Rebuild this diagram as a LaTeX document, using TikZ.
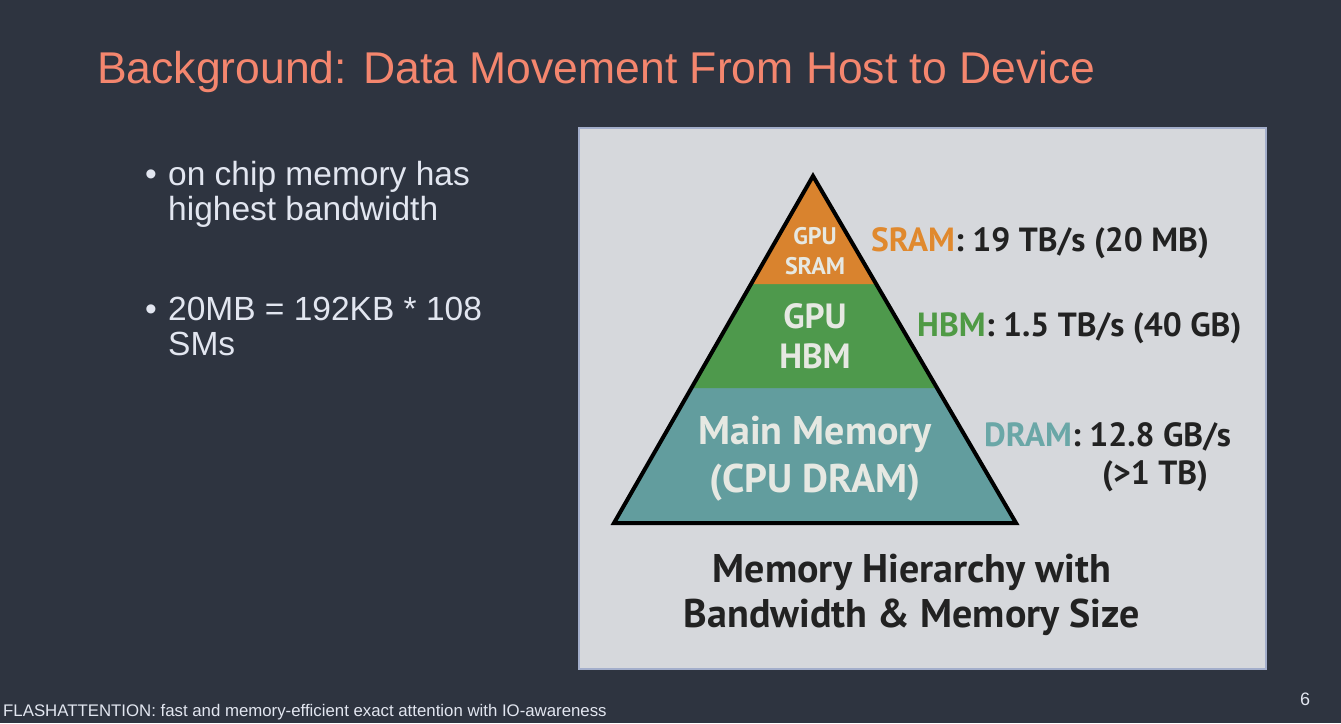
\documentclass[tikz,border=0pt]{standalone}
\usepackage{fontspec}
\setmainfont{Liberation Sans}
\newfontfamily\pyr{PT Sans}
\definecolor{bg}{HTML}{2E3440}
\definecolor{titlec}{HTML}{F4866E}
\definecolor{bullc}{HTML}{E2E6F0}
\definecolor{panel}{HTML}{D6D8DC}
\definecolor{panelb}{HTML}{A3AECB}
\definecolor{orng}{HTML}{D9832E}
\definecolor{grn}{HTML}{4E994C}
\definecolor{teal}{HTML}{629D9E}
\definecolor{orngt}{HTML}{E0892E}
\definecolor{grnt}{HTML}{4F9A45}
\definecolor{tealt}{HTML}{6AA7A7}
\definecolor{darkt}{HTML}{222222}
\definecolor{wt}{HTML}{E6E8E2}
\tikzset{
  bul/.style={anchor=base west, inner sep=0pt, text=bullc, font=\fontsize{33.5}{35}\selectfont},
  inlbl/.style={anchor=center, inner sep=0pt, text=wt, align=center},
  rlbl/.style={anchor=west, inner sep=0pt, text=darkt, font=\pyr\bfseries\fontsize{33.5}{36}\selectfont},
}
\begin{document}
\begin{tikzpicture}[x=1pt,y=-1pt]
\useasboundingbox (0,0) rectangle (1341,723);
\fill[bg] (0,0) rectangle (1341,723);
% title
\node[anchor=base west, inner sep=0pt, text=titlec, font=\fontsize{44.5}{50}\selectfont] (title) at (97,83) {Background: Data Movement From Host to Device};
% bullets
\node[bul] (b1) at (145,185) {•};
\node[bul] (t1a) at (168,185) {on chip memory has};
\node[bul] (t1b) at (168,220) {highest bandwidth};
\node[bul] (b2) at (145,320) {•};
\node[bul] (t2a) at (168,320) {20MB = 192KB * 108};
\node[bul] (t2b) at (168,355) {SMs};
% panel
\draw[panelb, line width=2pt, fill=panel] (579,128) rectangle (1266,669);
% pyramid
\coordinate (apex) at (813,176);
\coordinate (bl) at (614,523);
\coordinate (br) at (1016,523);
\fill[teal] (614,523) -- (690,388) -- (936,388) -- (1016,523) -- cycle;
\fill[grn] (690,388) -- (750,284) -- (876,284) -- (936,388) -- cycle;
\fill[orng] (750,284) -- (apex) -- (876,284) -- cycle;
\draw[black, line width=4pt, line join=miter] (apex) -- (bl) -- (br) -- cycle;
% inner labels
\node[inlbl, font=\pyr\bfseries\fontsize{24}{30}\selectfont] (sramin) at (815,251) {GPU\\SRAM};
\node[inlbl, font=\pyr\bfseries\fontsize{35}{40}\selectfont] (hbmin) at (815,336) {GPU\\HBM};
\node[inlbl, font=\pyr\bfseries\fontsize{40}{48}\selectfont] (dramin) at (815,459) {Main Memory\\(CPU DRAM)};
% right labels
\node[rlbl] (sramr) at (871,243) {\textcolor{orngt}{SRAM}: 19 TB/s (20 MB)};
\node[rlbl] (hbmr) at (917,328) {\textcolor{grnt}{HBM}: 1.5 TB/s (40 GB)};
\node[rlbl] (dramr) at (984,437) {\textcolor{tealt}{DRAM}: 12.8 GB/s};
\node[rlbl] (dramr2) at (1102,476) {(>1 TB)};
% caption
\node[anchor=center, inner sep=0pt, text=darkt, align=center, font=\pyr\bfseries\fontsize{40}{45}\selectfont] (cap) at (912,595) {Memory Hierarchy with\\Bandwidth \& Memory Size};
% footer
\node[anchor=base west, inner sep=0pt, text=bullc, font=\fontsize{16.8}{18}\selectfont] (foot) at (3,716) {FLASHATTENTION: fast and memory-efficient exact attention with IO-awareness};
\node[anchor=base, inner sep=0pt, text=bullc, font=\fontsize{18}{20}\selectfont] (pg) at (1305,705) {6};
\end{tikzpicture}
\end{document}
